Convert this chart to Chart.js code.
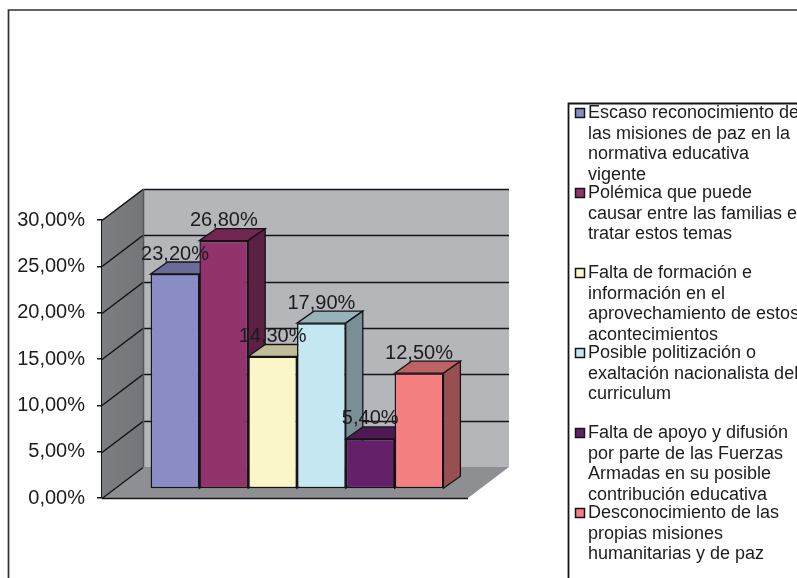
<!DOCTYPE html>
<html>
<head>
<meta charset="utf-8">
<style>
  html, body { margin: 0; padding: 0; background: #fff; overflow: hidden; }
  canvas { display: block; filter: blur(0.35px); }
</style>
<script src="https://cdn.jsdelivr.net/npm/chart.js@4"></script>
</head>
<body>
<canvas id="grafico" width="797" height="578"></canvas>
<script>
// datos
const categorias = [
    ['Escaso reconocimiento de', 'las misiones de paz en la', 'normativa educativa', 'vigente'],
    ['Polémica que puede', 'causar entre las familias e', 'tratar estos temas'],
    ['Falta de formación e', 'información en el', 'aprovechamiento de estos', 'acontecimientos'],
    ['Posible politización o', 'exaltación nacionalista del', 'curriculum'],
    ['Falta de apoyo y difusión', 'por parte de las Fuerzas', 'Armadas en su posible', 'contribución educativa'],
    ['Desconocimiento de las', 'propias misiones', 'humanitarias y de paz']
];
const valores = [23.2, 26.8, 14.3, 17.9, 5.4, 12.5];
const ticksY = ['0,00%', '5,00%', '10,00%', '15,00%', '20,00%', '25,00%', '30,00%'];
const colores = ['#8a8cc6', '#93336b', '#faf6c8', '#c5e7f1', '#65206a', '#f58082'];

const FUENTE = '"Liberation Sans", Arial, sans-serif';
const BORDE = '#141418';
const TEXTO = '#1c1c20';

// oscurece un color para las caras laterales
function sombra(hex, f) {
    const n = parseInt(hex.slice(1), 16);
    return `rgb(${Math.round((n >> 16) * f)},${Math.round(((n >> 8) & 255) * f)},${Math.round((n & 255) * f)})`;
}

function poly(c, pts, fill, stroke) {
    c.beginPath();
    pts.forEach((p, i) => i ? c.lineTo(p[0], p[1]) : c.moveTo(p[0], p[1]));
    c.closePath();
    if (fill) { c.fillStyle = fill; c.fill(); }
    if (stroke) { c.strokeStyle = stroke; c.lineWidth = 1.3; c.stroke(); }
}

// profundidad de la caja y de las barras
const caja = { dx: 41, dy: 31 };
const plano = { dx: 12, dy: 9 };
const barra = { dx: 17, dy: 12 };

const caja3d = {
    id: 'caja3d',
    beforeDatasetsDraw(chart) {
        const c = chart.ctx, a = chart.chartArea, y = chart.scales.y;
        c.save();
        // pared del fondo, pared lateral y suelo
        poly(c, [[a.left + caja.dx, a.top - caja.dy], [a.right + caja.dx, a.top - caja.dy],
                 [a.right + caja.dx, a.bottom - caja.dy], [a.left + caja.dx, a.bottom - caja.dy]], '#b5b6ba');
        const lat = c.createLinearGradient(a.left, 0, a.left + caja.dx, 0);
        lat.addColorStop(0, '#7d7e81');
        lat.addColorStop(1, '#747578');
        poly(c, [[a.left, a.bottom], [a.left + caja.dx, a.bottom - caja.dy],
                 [a.left + caja.dx, a.top - caja.dy], [a.left, a.top]], lat);
        poly(c, [[a.left, a.bottom], [a.right, a.bottom],
                 [a.right + caja.dx, a.bottom - caja.dy], [a.left + caja.dx, a.bottom - caja.dy]], '#8e8f92');
        // lineas de division
        c.strokeStyle = BORDE;
        c.lineWidth = 1.5;
        ticksY.forEach((t, i) => {
            const py = Math.round(y.getPixelForValue(i * 5)) + 0.5;
            c.beginPath();
            c.moveTo(a.left, py);
            c.lineTo(a.left + caja.dx, py - caja.dy);
            if (i > 0) c.lineTo(a.right + caja.dx, py - caja.dy);
            c.stroke();
        });
        c.beginPath();
        c.moveTo(a.left + caja.dx + 0.5, a.top - caja.dy);
        c.lineTo(a.left + caja.dx + 0.5, a.bottom - caja.dy);
        c.strokeStyle = '#55565a';
        c.stroke();
        c.beginPath();
        c.moveTo(a.left, a.bottom + 0.5);
        c.lineTo(a.right, a.bottom + 0.5);
        c.strokeStyle = BORDE;
        c.stroke();
        c.restore();
    },
    // las barras se pintan abajo, de izquierda a derecha
    beforeDatasetDraw() {
        return false;
    },
    afterDatasetsDraw(chart) {
        const c = chart.ctx;
        valores.forEach((v, i) => {
            const meta = chart.getDatasetMeta(i), b = meta.data[0];
            const x0 = b.x - b.width / 2, x1 = b.x + b.width / 2;
            c.save();
            c.translate(plano.dx, -plano.dy);
            // cara superior y lateral
            poly(c, [[x0, b.y], [x0 + barra.dx, b.y - barra.dy], [x1 + barra.dx, b.y - barra.dy], [x1, b.y]],
                 sombra(colores[i], 0.77), BORDE);
            poly(c, [[x1, b.y], [x1 + barra.dx, b.y - barra.dy], [x1 + barra.dx, b.base - barra.dy], [x1, b.base]],
                 sombra(colores[i], 0.62), BORDE);
            meta.controller.draw();
            c.restore();
        });
        // etiquetas de valor
        c.save();
        c.font = '20px ' + FUENTE;
        c.fillStyle = TEXTO;
        c.textAlign = 'center';
        c.textBaseline = 'middle';
        valores.forEach((v, i) => {
            const b = chart.getDatasetMeta(i).data[0];
            c.fillText(v.toFixed(2).replace('.', ',') + '%', b.x + plano.dx, b.y - plano.dy - 20);
        });
        c.restore();
    }
};

// marco exterior y leyenda
const leyenda = {
    id: 'leyenda',
    afterDraw(chart) {
        const c = chart.ctx;
        c.save();
        c.strokeStyle = '#303034';
        c.lineWidth = 1.7;
        c.beginPath();
        c.moveTo(8.5, 578);
        c.lineTo(8.5, 10);
        c.lineTo(797, 10);
        c.stroke();
        c.strokeStyle = BORDE;
        c.lineWidth = 1.8;
        c.beginPath();
        c.moveTo(568.5, 578);
        c.lineTo(568.5, 103.5);
        c.lineTo(797, 103.5);
        c.stroke();
        c.font = '18px ' + FUENTE;
        c.textBaseline = 'middle';
        categorias.forEach((lineas, i) => {
            const yc = 113 + i * 80;
            c.fillStyle = colores[i];
            c.strokeStyle = BORDE;
            c.lineWidth = 1.5;
            c.fillRect(575.5, yc - 4.5, 9, 9);
            c.strokeRect(575.5, yc - 4.5, 9, 9);
            c.fillStyle = TEXTO;
            lineas.forEach((t, j) => c.fillText(t, 588, yc + j * 20.6));
        });
        c.restore();
    }
};

new Chart(document.getElementById('grafico'), {
    type: 'bar',
    data: {
        labels: [''],
        datasets: valores.map((v, i) => ({
            label: categorias[i].join(' '),
            data: [v],
            backgroundColor: colores[i],
            borderColor: BORDE,
            borderWidth: 1.5,
            borderSkipped: false,
            categoryPercentage: 0.8,
            barPercentage: 1
        }))
    },
    options: {
        responsive: false,
        animation: false,
        layout: { padding: { left: 0, right: 329, top: 220, bottom: 80 } },
        plugins: { legend: { display: false }, tooltip: { enabled: false } },
        scales: {
            x: { display: false },
            y: {
                min: 0,
                max: 30,
                afterFit(scale) { scale.width = 102; },
                grid: { drawOnChartArea: false, color: BORDE, tickLength: 5, lineWidth: 1.5 },
                border: { display: true, color: BORDE, width: 1.5 },
                ticks: {
                    stepSize: 5,
                    padding: 12,
                    color: TEXTO,
                    font: { family: FUENTE, size: 20 },
                    callback: (v) => ticksY[v / 5]
                }
            }
        }
    },
    plugins: [caja3d, leyenda]
});
</script>
</body>
</html>
